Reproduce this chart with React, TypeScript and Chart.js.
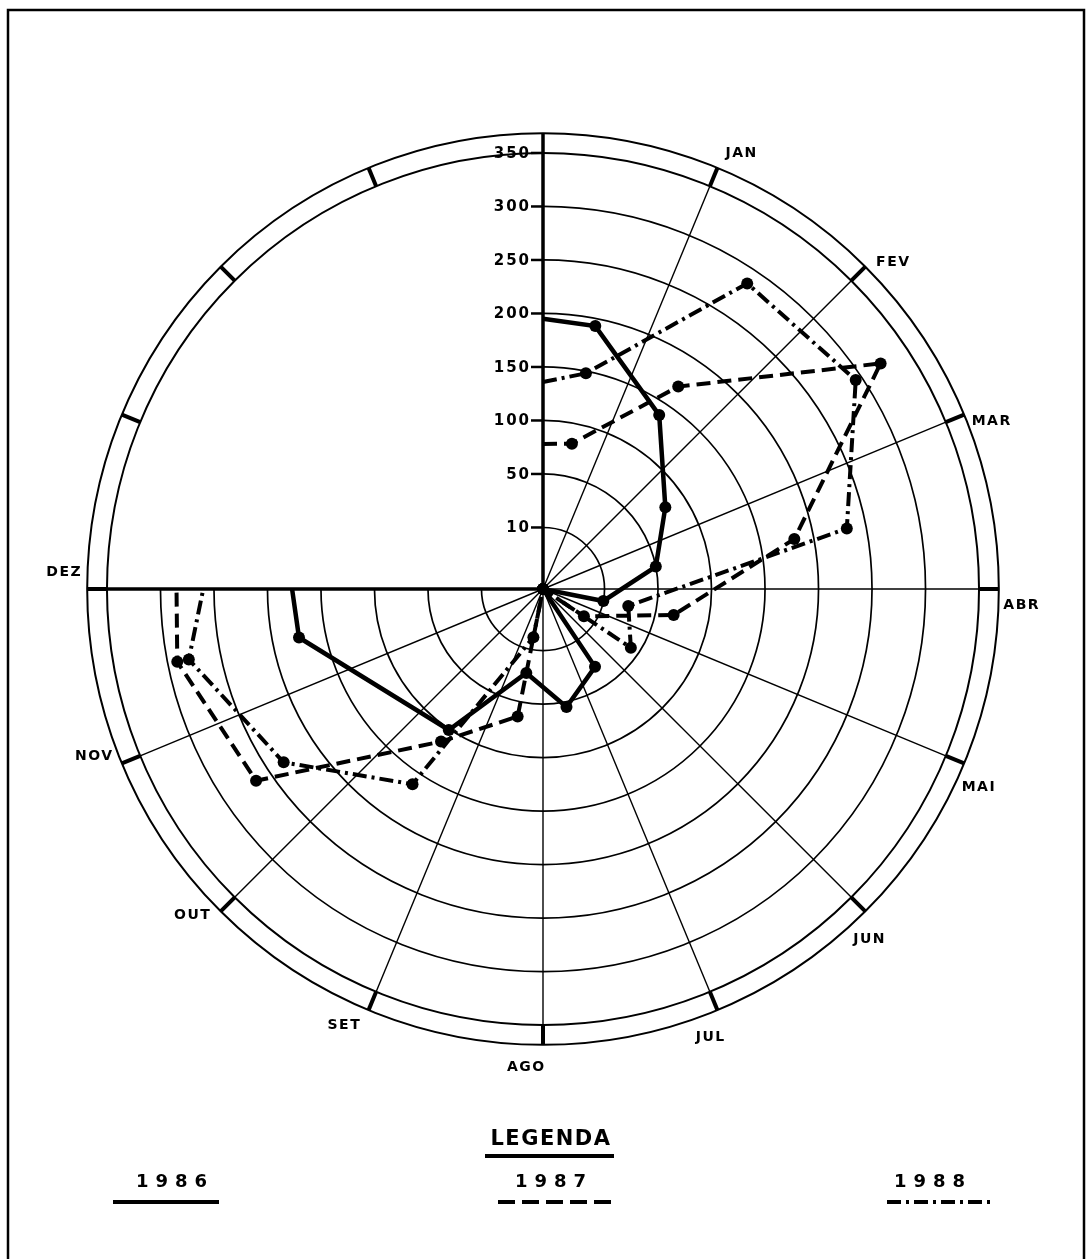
import React, { useEffect, useRef } from "react";
import { Chart, registerables } from "chart.js";

Chart.register(...registerables);

// ---------- data ----------
const MONTHS = ["JAN", "FEV", "MAR", "ABR", "MAI", "JUN", "JUL", "AGO", "SET", "OUT", "NOV", "DEZ"];
const RING_VALUES = [0, 10, 50, 100, 150, 200, 250, 300, 350];
const RING_LABELS = ["10", "50", "100", "150", "200", "250", "300", "350"];
const YEARS = ["1986", "1987", "1988"];

// monthly values, plotted at the middle of each month's sector (null = not drawn)
const VALUES_1986 = [193, 138, 80, 50, 10, 0, 34, 55, 28, 101, null, 175];
const VALUES_1987 = [81, 170, 322, 182, 67, 8, 0, 0, 64, 114, 265, 291];
const VALUES_1988 = [148, 286, 294, 232, 29, 43, 0, 0, 8, 162, 234, 280];
// where each curve meets the vertical (start) axis and the DEZ (end) axis
const AXIS_START = [195, 78, 136];
const AXIS_END = [177, 285, 260];

// ---------- layout ----------
const W = 1088;
const H = 1259;
const CX = 543;
const CY = 589;
const PX_PER_UNIT = 53.5;
const SECTOR_DEG = 22.5;
const INNER_FACTOR = 1.15;
const RING_OFFSET = 0.15;
const BAND = 0.37;
const FONT = "'DejaVu Sans', 'Liberation Sans', sans-serif";

function valueToRing(v: number): number {
  for (let j = 0; j < RING_VALUES.length - 1; j++) {
    const a = RING_VALUES[j];
    const b = RING_VALUES[j + 1];
    if (v <= b) return j + (v - a) / (b - a);
  }
  return RING_VALUES.length - 1;
}
function ringUnits(k: number): number {
  return k <= 1 ? k * INNER_FACTOR : k + RING_OFFSET;
}
function toXY(value: number, deg: number) {
  const u = ringUnits(valueToRing(value));
  const t = (deg * Math.PI) / 180;
  return { x: u * Math.sin(t), y: u * Math.cos(t) };
}
function seriesPoints(values: (number | null)[], start: number, end: number) {
  const pts: any[] = [];
  pts.push({ ...toXY(start, 0), month: false });
  values.forEach((v, i) => {
    if (v === null) return;
    pts.push({ ...toXY(v, (i + 0.5) * SECTOR_DEG), month: true });
  });
  pts.push({ ...toXY(end, 12 * SECTOR_DEG), month: false });
  return pts;
}

const DASHES: number[][] = [[], [14, 7], [14, 5, 3, 5]];
const WIDTHS = [4.5, 4, 4];

const gridPlugin = {
  id: "polarGrid",
  beforeDraw(chart: any) {
    const ctx = chart.ctx;
    ctx.save();
    ctx.fillStyle = "#fff";
    ctx.fillRect(0, 0, chart.width, chart.height);
    ctx.strokeStyle = "#000";
    ctx.lineWidth = 2.5;
    ctx.beginPath();
    ctx.moveTo(8, H);
    ctx.lineTo(8, 10);
    ctx.lineTo(1084, 10);
    ctx.lineTo(1084, H);
    ctx.stroke();
    ctx.restore();
  },
  beforeDatasetsDraw(chart: any) {
    const ctx = chart.ctx;
    const xs = chart.scales.x;
    const ys = chart.scales.y;
    const cx = xs.getPixelForValue(0);
    const cy = ys.getPixelForValue(0);
    const ppu = xs.getPixelForValue(1) - cx;
    const nR = RING_VALUES.length - 1;
    const rMax = ringUnits(nR) * ppu;
    const rOut = (ringUnits(nR) + BAND) * ppu;
    const pol = (r: number, deg: number) => {
      const t = (deg * Math.PI) / 180;
      return [cx + r * Math.sin(t), cy - r * Math.cos(t)];
    };
    ctx.save();
    ctx.strokeStyle = "#000";
    // partial rings (0..270 deg)
    ctx.lineWidth = 1.7;
    for (let k = 1; k < nR; k++) {
      ctx.beginPath();
      ctx.arc(cx, cy, ringUnits(k) * ppu, -Math.PI / 2, Math.PI);
      ctx.stroke();
    }
    // full outer rings
    ctx.lineWidth = 2;
    [rMax, rOut].forEach((r) => {
      ctx.beginPath();
      ctx.arc(cx, cy, r, 0, Math.PI * 2);
      ctx.stroke();
    });
    // spokes
    ctx.lineWidth = 1.4;
    for (let i = 1; i < 12; i++) {
      const [x, y] = pol(rMax, i * SECTOR_DEG);
      ctx.beginPath();
      ctx.moveTo(cx, cy);
      ctx.lineTo(x, y);
      ctx.stroke();
    }
    // main axes
    ctx.lineWidth = 3.5;
    [0, 12 * SECTOR_DEG].forEach((d) => {
      const [x, y] = pol(rOut, d);
      ctx.beginPath();
      ctx.moveTo(cx, cy);
      ctx.lineTo(x, y);
      ctx.stroke();
    });
    // band ticks
    ctx.lineWidth = 4;
    for (let i = 1; i < 16; i++) {
      const [x1, y1] = pol(rMax, i * SECTOR_DEG);
      const [x2, y2] = pol(rOut, i * SECTOR_DEG);
      ctx.beginPath();
      ctx.moveTo(x1, y1);
      ctx.lineTo(x2, y2);
      ctx.stroke();
    }
    // radial tick marks and labels
    ctx.fillStyle = "#000";
    ctx.font = `bold 15px ${FONT}`;
    (ctx as any).letterSpacing = "2px";
    ctx.textAlign = "right";
    ctx.textBaseline = "middle";
    ctx.lineWidth = 2.5;
    RING_LABELS.forEach((lab, i) => {
      const y = cy - ringUnits(i + 1) * ppu;
      ctx.beginPath();
      ctx.moveTo(cx - 12, y);
      ctx.lineTo(cx, y);
      ctx.stroke();
      ctx.fillText(lab, cx - 12, y + 1);
    });
    // month labels
    ctx.font = `bold 14px ${FONT}`;
    (ctx as any).letterSpacing = "1.5px";
    ctx.textAlign = "center";
    MONTHS.forEach((m, i) => {
      const [x, y] = pol(479, (i + 1) * SECTOR_DEG + 2);
      ctx.fillText(m, x, y);
    });
    ctx.restore();
  },
  afterDraw(chart: any) {
    const ctx = chart.ctx;
    ctx.save();
    ctx.fillStyle = "#000";
    ctx.strokeStyle = "#000";
    ctx.textAlign = "center";
    ctx.textBaseline = "middle";
    ctx.font = `bold 21px ${FONT}`;
    (ctx as any).letterSpacing = "1.5px";
    ctx.fillText("LEGENDA", 551, 1140);
    ctx.lineWidth = 4;
    ctx.beginPath();
    ctx.moveTo(485, 1156);
    ctx.lineTo(614, 1156);
    ctx.stroke();
    const items = [
      { cx: 172, x1: 113, x2: 219 },
      { cx: 551, x1: 498, x2: 612 },
      { cx: 930, x1: 887, x2: 993 },
    ];
    const legendDash: number[][] = [[], [17, 7], [14, 5, 3, 5]];
    ctx.font = `bold 18px ${FONT}`;
    (ctx as any).letterSpacing = "7px";
    YEARS.forEach((yr, i) => {
      ctx.fillText(yr, items[i].cx + 3, 1182);
      ctx.lineWidth = 4;
      ctx.setLineDash(legendDash[i]);
      ctx.beginPath();
      ctx.moveTo(items[i].x1, 1202);
      ctx.lineTo(items[i].x2, 1202);
      ctx.stroke();
      ctx.setLineDash([]);
    });
    ctx.restore();
  },
};

export default function App() {
  const ref = useRef<HTMLCanvasElement | null>(null);
  useEffect(() => {
    if (!ref.current) return;
    const series = [VALUES_1986, VALUES_1987, VALUES_1988];
    const chart = new Chart(ref.current, {
      type: "scatter",
      data: {
        datasets: series.map((vals, i) => ({
          label: YEARS[i],
          data: seriesPoints(vals, AXIS_START[i], AXIS_END[i]),
          showLine: true,
          borderColor: "#000",
          backgroundColor: "#000",
          borderWidth: WIDTHS[i],
          borderDash: DASHES[i],
          pointRadius: (c: any) => (c.raw && c.raw.month ? 6 : 0),
          pointBackgroundColor: "#000",
          pointBorderWidth: 0,
          pointHoverRadius: 0,
          tension: 0,
          clip: false,
        })) as any,
      },
      options: {
        animation: false,
        responsive: false,
        maintainAspectRatio: false,
        events: [],
        layout: { padding: 0 },
        plugins: { legend: { display: false }, tooltip: { enabled: false }, title: { display: false } },
        scales: {
          x: { type: "linear", display: false, min: -CX / PX_PER_UNIT, max: (W - CX) / PX_PER_UNIT },
          y: { type: "linear", display: false, min: -(H - CY) / PX_PER_UNIT, max: CY / PX_PER_UNIT },
        },
      },
      plugins: [gridPlugin],
    });
    return () => chart.destroy();
  }, []);
  return (
    <div style={{ position: "absolute", left: 0, top: 0, width: W, height: H, background: "#fff" }}>
      <canvas ref={ref} width={W} height={H} style={{ display: "block", width: W, height: H }} />
    </div>
  );
}
